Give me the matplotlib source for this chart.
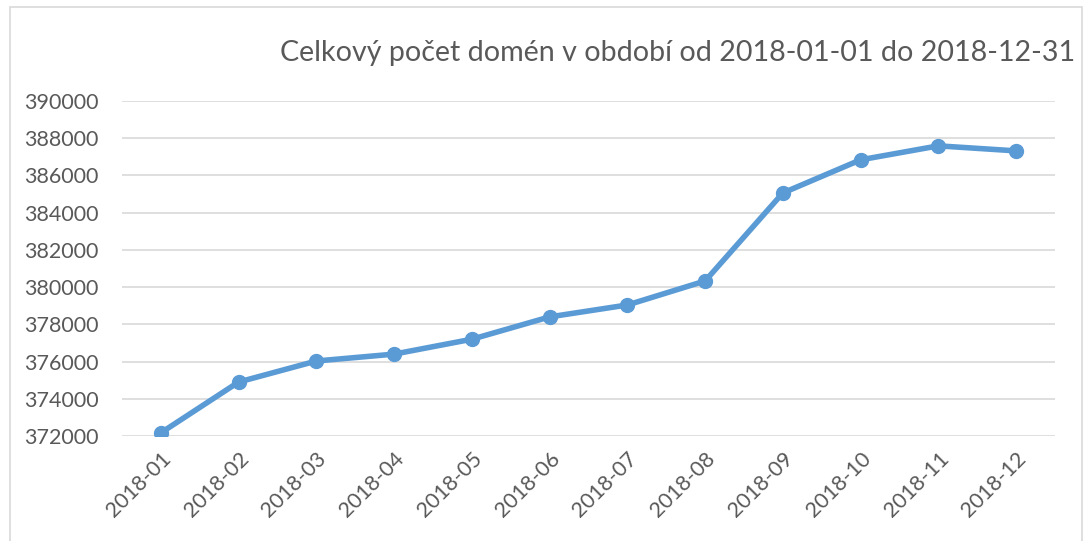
import matplotlib.pyplot as plt
from matplotlib.patches import Rectangle

# data
mesice = ['2018-01', '2018-02', '2018-03', '2018-04', '2018-05', '2018-06',
          '2018-07', '2018-08', '2018-09', '2018-10', '2018-11', '2018-12']
pocet_domen = [372170, 374900, 376030, 376400, 377200, 378400,
               379040, 380330, 385060, 386840, 387590, 387320]
y_ticks = list(range(372000, 390001, 2000))

plt.rcParams['font.family'] = ['Lato', 'DejaVu Sans']
text_color = '#595959'

fig = plt.figure(figsize=(10.88, 5.41), dpi=100)
ax = fig.add_axes([122 / 1088, 1 - 436 / 541, (1055 - 122) / 1088, (436 - 101) / 541])

x = list(range(len(mesice)))
ax.plot(x, pocet_domen, color='#5B9BD5', linewidth=4, marker='o',
        markersize=10, solid_capstyle='round', zorder=3)

ax.set_xlim(-0.5, len(mesice) - 0.5)
ax.set_ylim(y_ticks[0], y_ticks[-1])
ax.set_yticks(y_ticks)
ax.set_yticklabels([str(v) for v in y_ticks], fontsize=15.5, color=text_color)
ax.set_xticks(x)
ax.set_xticklabels(mesice, rotation=45, ha='right', rotation_mode='anchor',
                   fontsize=15.5, color=text_color)
ax.tick_params(axis='both', length=0)
ax.tick_params(axis='y', pad=17)
ax.tick_params(axis='x', pad=9)

ax.grid(axis='y', color='#D9D9D9', linewidth=1.2)
ax.set_axisbelow(True)
for s in ax.spines.values():
    s.set_visible(False)

fig.text(1075 / 1088, 1 - 53 / 541, 'Celkový počet domén v období od 2018-01-01 do 2018-12-31',
         ha='right', va='center', fontsize=20.6, color=text_color)

# chart frame
fig.patches.append(Rectangle((10 / 1088, -0.05), (1082 - 10) / 1088, 1 - 7 / 541 + 0.05,
                             transform=fig.transFigure, fill=False,
                             edgecolor='#D9D9D9', linewidth=1.2))

fig.savefig('out.png', dpi=100)
